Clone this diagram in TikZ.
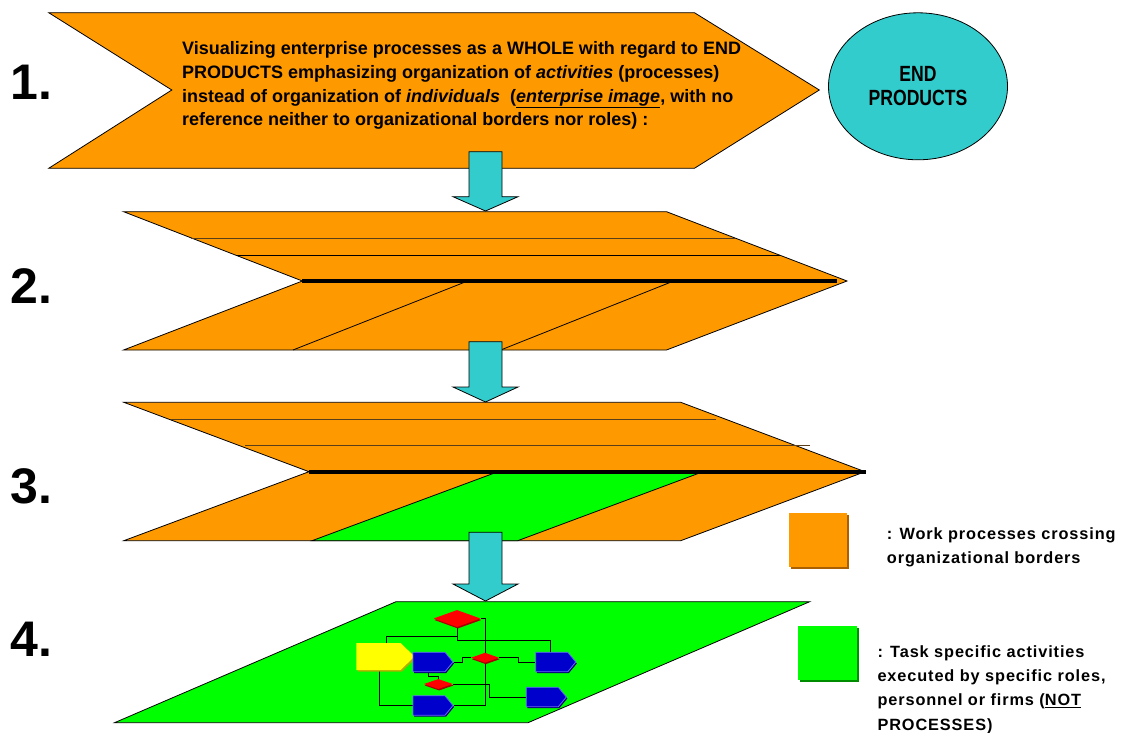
\documentclass[tikz,border=0pt]{standalone}
\usepackage{fontspec}
\setmainfont{Liberation Sans}
\newfontfamily\legendfont{Liberation Sans}[LetterSpace=5.5]
\newfontfamily\ovalfont{Liberation Sans}[FakeStretch=0.8]
\usetikzlibrary{shapes.geometric,shapes.symbols,shadows,calc}
\definecolor{proc}{RGB}{255,153,0}
\definecolor{procshade}{RGB}{170,95,0}
\definecolor{task}{RGB}{0,255,0}
\definecolor{taskshade}{RGB}{0,140,0}
\definecolor{flow}{RGB}{51,204,204}
\definecolor{rule}{RGB}{90,62,25}
\definecolor{act}{RGB}{0,0,204}
\definecolor{actedge}{RGB}{102,102,255}
\definecolor{actshade}{RGB}{0,0,110}
\definecolor{decide}{RGB}{255,0,0}
\definecolor{decideshade}{RGB}{165,0,0}
\definecolor{start}{RGB}{255,255,0}
\definecolor{startshade}{RGB}{175,175,0}
\pgfdeclarelayer{under}
\pgfdeclarelayer{wires}
\pgfsetlayers{under,wires,main}
% block arrow pointing down: #1 shaft top, #2 head base, #3 tip
\newcommand\flowarrow[3]{%
  \draw[blockarrow] (469,#1) -- (502,#1) -- (502,#2) -- (518,#2) -- (485.5,#3)
    -- (453,#2) -- (469,#2) -- cycle;}
\begin{document}
\begin{tikzpicture}[x=1pt,y=-1pt,
  outline/.style={draw=black,line width=0.8pt,line join=miter},
  rulethin/.style={draw=rule,line width=0.9pt},
  rulethick/.style={draw=black,line width=4pt},
  blockarrow/.style={fill=flow,draw=black,line width=0.8pt},
  stepno/.style={font=\fontsize{50}{50}\selectfont\bfseries,anchor=base west,inner sep=0},
  wire/.style={draw=black,line width=0.8pt},
  decision/.style={shape=diamond,fill=decide,inner sep=0,draw=none,
    drop shadow={shadow xshift=0.8pt,shadow yshift=-1.5pt,opacity=1,fill=decideshade}},
  activity/.style={shape=signal,signal to=east,signal pointer angle=101,
    fill=act,draw=actedge,line width=0.8pt,inner sep=0,
    minimum width=40,minimum height=19.4,
    drop shadow={shadow xshift=1pt,shadow yshift=-1.5pt,opacity=1,fill=actshade}},
  startbox/.style={shape=signal,signal to=east,signal pointer angle=88,
    fill=start,draw=none,inner sep=0,minimum width=58,minimum height=27,
    drop shadow={shadow xshift=1.5pt,shadow yshift=-1.5pt,opacity=1,fill=startshade}},
  legendtext/.style={anchor=base west,align=left,inner sep=0,
    font=\legendfont\bfseries\fontsize{16.3}{24.2}\selectfont},
]
\useasboundingbox (0,0) rectangle (1121,733);

% step numbers
\node[stepno] (n1) at (10,100) {1.};
\node[stepno] (n2) at (10,303) {2.};
\node[stepno] (n3) at (10,503) {3.};
\node[stepno] (n4) at (10,656) {4.};

% step 1: chevron with the enterprise view
\draw[outline,fill=proc] (48.7,12.7) -- (694.4,12.7) -- (819.3,90) -- (694.4,168.3)
  -- (48.7,168.3) -- (171.8,90) -- cycle;
% multi-line nodes: base anchor sits on the last line
\node[anchor=base west,align=left,inner sep=0,
  font=\bfseries\fontsize{18}{23.7}\selectfont] (whole) at (182,126)
  {Visualizing enterprise processes as a WHOLE with regard to END\\
   PRODUCTS emphasizing organization of \textit{activities} (processes)\\
   instead of organization of \textit{individuals}\ \ (\underline{\textit{enterprise image}}, with no\\
   reference neither to organizational borders nor roles) :};
\node[ellipse,outline,fill=flow,minimum width=179,minimum height=147,inner sep=0,
  align=center,font=\ovalfont\bfseries\fontsize{22}{24.3}\selectfont]
  (ends) at (918,86.3) {END\\PRODUCTS};

% step 2: processes split into bands
\draw[outline,fill=proc] (123.6,211.7) -- (666.5,211.7) -- (847,281) -- (666.5,350)
  -- (123.6,350) -- (302.4,281) -- cycle;
\draw[rulethin] (191,238.3) -- (735,238.3);
\draw[black,line width=0.9pt] (237,255.7) -- (781,255.7);
\draw[outline] (467.7,281) -- (293,350);
\draw[outline] (673.7,281) -- (500.7,350);
\draw[rulethick] (302.4,281) -- (837,281);

% step 3: one band becomes task specific
\draw[outline,fill=proc] (123.8,402.3) -- (680.7,402.3) -- (865,471.7) -- (680.7,540.7)
  -- (123.8,540.7) -- (309,471.7) -- cycle;
\draw[outline,fill=task] (498,471.7) -- (703,471.7) -- (517.7,540.7) -- (312,540.7) -- cycle;
\draw[rulethin] (171,419.7) -- (715.6,419.7);
\draw[rulethin] (245,445.7) -- (810,445.7);
\draw[rulethick] (309,471.7) -- (866,471.7);

% step 4: task plane with its activity flow
\begin{pgfonlayer}{under}
\draw[outline,fill=task] (396,601.7) -- (809.7,601.7) -- (528,722.7) -- (114.5,722.7) -- cycle;
\end{pgfonlayer}
\node[decision,minimum width=47,minimum height=17] (d1) at (457,618.5) {};
\node[decision,minimum width=28,minimum height=10] (d2) at (485,657.7) {};
\node[decision,minimum width=29,minimum height=10] (d3) at (438.3,684) {};
% signal nodes are centred on their body, the point sticks out to the east
\node[startbox] (y) at (378.5,656.5) {};
\node[activity] (b1) at (429,662) {};
\node[activity] (b2) at (551.8,662) {};
\node[activity] (b3) at (542.3,697) {};
\node[activity] (b4) at (429,705.5) {};
\begin{pgfonlayer}{wires}
\draw[wire] (d1.south) -- ++(0,13) -| ([xshift=-1]b2.north);
\draw[wire] ([xshift=7.5]y.north) |- ($(d1.south)+(0,9)$);
\draw[wire] (d1.east) -| (d2.center |- b4.east) -- (b4.east);
\draw[wire] ([xshift=0.5]y.south) |- (b4.west);
\draw[wire] (b1.east) -- ++(8.7,0) |- (d2.west);
\draw[wire] (d2.east) -- ++(19,0) |- (b2.west);
\draw[wire] ([xshift=-1]b1.south) -- ++(0,4.3) -| (d3.north);
\draw[wire] (d3.east) -- ++(36.3,0) |- (b3.west);
\end{pgfonlayer}

% arrows between the steps
\flowarrow{151.7}{196.7}{211}
\flowarrow{341.7}{387}{402}
\flowarrow{532.3}{584}{601}

% legend
\node[fill=proc,minimum width=58,minimum height=53.4,inner sep=0,
  drop shadow={shadow xshift=2pt,shadow yshift=-2pt,opacity=1,fill=procshade}]
  (keyproc) at (818.3,540) {};
\node[legendtext] (keyproctext) at (886.7,563.3)
  {: Work processes crossing\\organizational borders};
\node[fill=task,minimum width=58.4,minimum height=54,inner sep=0,
  drop shadow={shadow xshift=2pt,shadow yshift=-2pt,opacity=1,fill=taskshade}]
  (keytask) at (827.5,653) {};
\node[legendtext] (keytasktext) at (877.3,730)
  {: Task specific activities\\executed by specific roles,\\personnel or firms (\underline{NOT}\\PROCESSES)};
\end{tikzpicture}
\end{document}
